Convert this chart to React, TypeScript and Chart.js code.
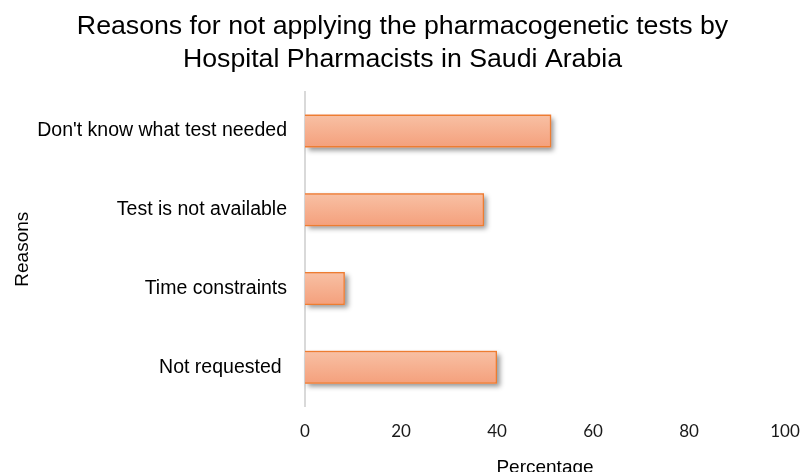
import React, { useEffect, useRef } from "react";
import { Chart, registerables } from "chart.js";

Chart.register(...registerables);

const titleLines = [
  "Reasons for not applying the pharmacogenetic tests by",
  "Hospital Pharmacists in Saudi Arabia",
];
const categories = [
  "Don't know what test needed",
  "Test is not available",
  "Time constraints",
  "Not requested ",
];
const percentages = [51.3, 37.3, 8.3, 40];
const xTitle = "Percentage";
const yTitle = "Reasons";
const xMin = 0;
const xMax = 100;
const xStep = 20;

const SANS = "'Liberation Sans', Arial, sans-serif";

const shadowPlugin = {
  id: "barShadow",
  beforeDatasetsDraw(chart: any) {
    const ctx = chart.ctx;
    const meta = chart.getDatasetMeta(0);
    ctx.save();
    ctx.shadowColor = "rgba(0,0,0,0.42)";
    ctx.shadowBlur = 5;
    ctx.shadowOffsetX = 3;
    ctx.shadowOffsetY = 3;
    ctx.fillStyle = "#f4a582";
    meta.data.forEach((el: any) => {
      const { x, y, base, height } = el.getProps(["x", "y", "base", "height"], true);
      const left = Math.min(x, base);
      ctx.fillRect(left, y - height / 2, Math.abs(x - base), height);
    });
    ctx.restore();
  },
};

export default function App() {
  const ref = useRef<HTMLCanvasElement | null>(null);
  useEffect(() => {
    if (!ref.current) return;
    const chart = new Chart(ref.current, {
      type: "bar",
      data: {
        labels: categories,
        datasets: [
          {
            data: percentages,
            backgroundColor: (c: any) => {
              const ch = c.chart;
              const ys = ch.scales && ch.scales.y;
              if (!ch.chartArea || !ys || c.dataIndex === undefined) return "#f5ad8c";
              const yc = ys.getPixelForValue(c.dataIndex);
              const g = ch.ctx.createLinearGradient(0, yc - 17, 0, yc + 17);
              g.addColorStop(0, "#f8c1a5");
              g.addColorStop(1, "#f49f7b");
              return g;
            },
            borderColor: "#ed7d31",
            borderWidth: 1.5,
            borderSkipped: "start",
            categoryPercentage: 1,
            barPercentage: 0.42,
          },
        ],
      },
      options: {
        indexAxis: "y",
        responsive: false,
        animation: false,
        layout: { padding: { left: 20, right: 19, top: 0, bottom: 2 } },
        plugins: {
          legend: { display: false },
          tooltip: { enabled: false },
          title: {
            display: true,
            text: titleLines,
            color: "#000",
            font: { family: SANS, size: 26.7, weight: "normal", lineHeight: 1.23 },
            padding: { top: 10, bottom: 16 },
          },
        },
        scales: {
          x: {
            min: xMin,
            max: xMax,
            grid: { display: false, drawTicks: false },
            border: { display: false },
            ticks: {
              stepSize: xStep,
              padding: 15,
              color: "#1a1a1a",
              font: { family: "Lato, 'Open Sans', sans-serif", size: 17, lineHeight: 1.2 },
            },
            title: {
              display: true,
              text: xTitle,
              color: "#000",
              font: { family: SANS, size: 19, lineHeight: 1.1 },
              padding: { top: 0, bottom: 0 },
            },
            afterFit: (scale: any) => {
              scale.paddingLeft = 0;
              scale.paddingRight = 0;
            },
          },
          y: {
            grid: { display: false, drawTicks: false },
            border: { display: true, color: "#d9d9d9", width: 2 },
            ticks: {
              padding: 18,
              color: "#000",
              font: { family: SANS, size: 19.5, lineHeight: 1.2 },
            },
            title: {
              display: true,
              text: yTitle,
              color: "#000",
              font: { family: SANS, size: 19, lineHeight: 1.2 },
              padding: { top: -9, bottom: 0 },
            },
            afterFit: (scale: any) => {
              scale.width = 285;
            },
          },
        },
      },
      plugins: [shadowPlugin],
    } as any);
    return () => chart.destroy();
  }, []);
  return (
    <div style={{ position: "fixed", left: 0, top: 0, background: "#fff" }}>
      <canvas ref={ref} width={804} height={480} style={{ display: "block" }} />
    </div>
  );
}
